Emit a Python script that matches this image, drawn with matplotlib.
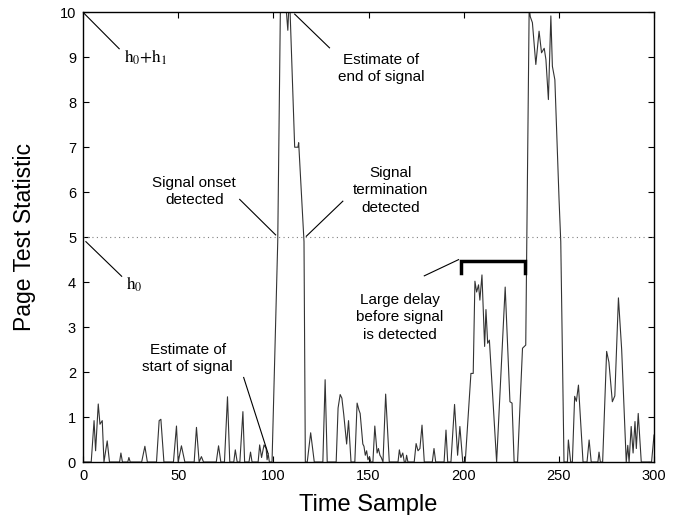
import matplotlib
matplotlib.use("Agg")
import matplotlib.pyplot as plt

plt.rcParams["font.family"] = ["Liberation Sans", "DejaVu Sans"]
plt.rcParams["mathtext.fontset"] = "stix"

# Page test statistic, vertices (time sample, value)
t = [0, 4.3, 5.8, 6.6, 8, 8.9, 10.1, 11, 12.7, 13.9,
     19.2, 19.9, 20.7, 23.5, 24.1, 24.8, 30.8, 32.5, 33.8,
     38.6, 40, 40.9, 42.5, 47.5, 49.1, 50, 51.7, 53.5,
     58.4, 59.6, 61, 62.2, 63.3, 70, 71.2, 72.4,
     74.3, 75.9, 77.1, 79.2, 80, 81, 82.4, 84, 84.9,
     87.2, 88, 88.8, 92, 92.8, 93.8, 95.1, 96.2, 96.7, 97.3, 97.9,
     99.3, 102.3, 103.8, 105, 106.5, 107.6, 108.3, 108.8, 111.2, 112.9, 113.3,
     116.1, 116.8, 117.8, 119.6, 121.5, 126, 127.2, 128.3,
     133, 134, 135.1, 136, 137, 138.5, 139.5, 140.8,
     142.8, 144, 145, 145.6, 147, 147.6, 148.3, 149, 149.7, 150.5, 151.2,
     152.3, 153.3, 154.5, 155.2, 156, 156.7, 157.6, 159, 160.9,
     165.5, 166.2, 167, 168, 168.8, 169.5, 170, 170.7,
     174, 175, 176, 177, 178.1, 179.3, 183.5, 184.4, 185.3,
     189.7, 190.7, 191.6, 193.3, 195.2, 196.8, 198, 199.5,
     200.8, 203.8, 205, 205.9, 206.8, 207.8, 208.5, 209.6, 211, 211.7, 212.6, 213.5,
     217.3, 221.8, 224.3, 225.4, 226.5, 228.3, 230.9, 232.6,
     234.4, 235, 236.1, 237.9, 239.6, 240.9, 242.3, 243.2, 244.5, 245.8, 246.6, 247.9,
     250.1, 251, 252.7, 254.5, 255, 256.2, 257.1, 258.3, 259.2, 260.3, 262.7,
     264.8, 265.9, 267, 270.5, 271.1, 271.8, 273, 275.1, 276.3, 278.1, 279.4,
     281.3, 283, 285.4, 286.2, 286.9, 288, 289, 290, 290.7, 291.7, 293.3,
     298.7, 300]
y = [0, 0, 0.92, 0.25, 1.29, 0.84, 0.92, 0, 0.47, 0,
     0, 0.2, 0, 0, 0.1, 0, 0, 0.35, 0,
     0, 0.92, 0.95, 0, 0, 0.8, 0, 0.36, 0,
     0, 0.77, 0, 0.12, 0, 0, 0.36, 0,
     0, 1.45, 0, 0, 0.27, 0, 0, 1.12, 0,
     0, 0.22, 0, 0, 0.38, 0.1, 0.38, 0.3, 0.05, 0.18, 0,
     0, 4.9, 10.5, 10.8, 10.2, 9.6, 10.3, 10, 7.0, 7.0, 7.1,
     4.9, 0, 0, 0.65, 0, 0, 1.83, 0,
     0, 1.2, 1.5, 1.42, 1.05, 0.4, 0.92, 0,
     0, 1.31, 1.15, 1.08, 0.4, 0.35, 0.15, 0.25, 0.05, 0.12, 0,
     0, 0.8, 0.2, 0.3, 0.15, 0.1, 0, 1.51, 0,
     0, 0.27, 0.1, 0.2, 0, 0, 0.15, 0,
     0, 0.41, 0.25, 0.3, 0.82, 0, 0, 0.3, 0,
     0, 0.71, 0, 0, 1.28, 0.15, 0.79, 0,
     0, 1.97, 1.97, 4.02, 3.78, 3.94, 3.6, 4.16, 2.57, 3.39, 2.64, 2.71,
     0, 3.89, 1.34, 1.31, 0, 0, 2.53, 2.6,
     10.1, 9.9, 9.77, 8.84, 9.58, 9.1, 9.2, 8.95, 8.06, 9.92, 8.8, 8.5,
     5.84, 4.9, 0, 0, 0.49, 0, 0, 1.46, 1.35, 1.71, 0,
     0, 0.49, 0, 0, 0.22, 0, 0, 2.46, 2.22, 1.34, 1.47,
     3.65, 2.5, 0, 0.37, 0, 0.79, 0.2, 0.9, 0.3, 1.08, 0,
     0, 0.6]

h0 = 5
xticks = [0, 50, 100, 150, 200, 250, 300]
yticks = list(range(0, 11))

fig = plt.figure(figsize=(6.8, 5.15), dpi=100)
ax = fig.add_axes([0.1221, 0.1029, 0.8397, 0.8732])

ax.plot(t, y, color="0.2", lw=0.8)
ax.axhline(h0, color="0.5", lw=0.8, ls=(0, (1, 3)))

ax.set_xlim(0, 300)
ax.set_ylim(0, 10)
ax.set_xticks(xticks)
ax.set_yticks(yticks)
ax.tick_params(direction="in", top=True, right=True, length=4, labelsize=10.5, pad=5)
for s in ax.spines.values():
    s.set_linewidth(1.0)
ax.set_xlabel("Time Sample", fontsize=17, labelpad=8)
ax.set_ylabel("Page Test Statistic", fontsize=16.5, labelpad=17)

# threshold labels
ax.plot([0, 19], [10, 9.19], color="k", lw=0.8)
ax.text(21.5, 9.0, r"$\mathrm{h_0{+}h_1}$", fontsize=12.5, ha="left", va="center")
ax.plot([1.5, 20.3], [4.9, 4.13], color="k", lw=0.8)
ax.text(22.5, 3.96, r"$\mathrm{h_0}$", fontsize=12.5, ha="left", va="center")

# annotations
kw = dict(fontsize=11, ha="center", va="center", linespacing=1.3)
ax.text(58.5, 6.01, "Signal onset\ndetected", **kw)
ax.plot([82.3, 101.2], [5.84, 5.05], color="k", lw=0.8)

ax.text(55, 2.3, "Estimate of\nstart of signal", **kw)
ax.plot([84.4, 97.2], [1.88, 0.19], color="k", lw=0.8)

ax.text(156.5, 8.75, "Estimate of\nend of signal", **kw)
ax.plot([111.2, 129.5], [9.96, 9.21], color="k", lw=0.8)

ax.text(161.5, 6.04, "Signal\ntermination\ndetected", **kw)
ax.plot([136.5, 117.3], [5.8, 5.02], color="k", lw=0.8)

ax.text(166.4, 3.22, "Large delay\nbefore signal\nis detected", **kw)
ax.plot([179.3, 197.3], [4.14, 4.5], color="k", lw=0.8)
ax.plot([198.6, 198.6, 232.3, 232.3], [4.2, 4.48, 4.48, 4.2], color="k", lw=2.5,
        solid_joinstyle="miter")

fig.savefig("out.png", dpi=100)
